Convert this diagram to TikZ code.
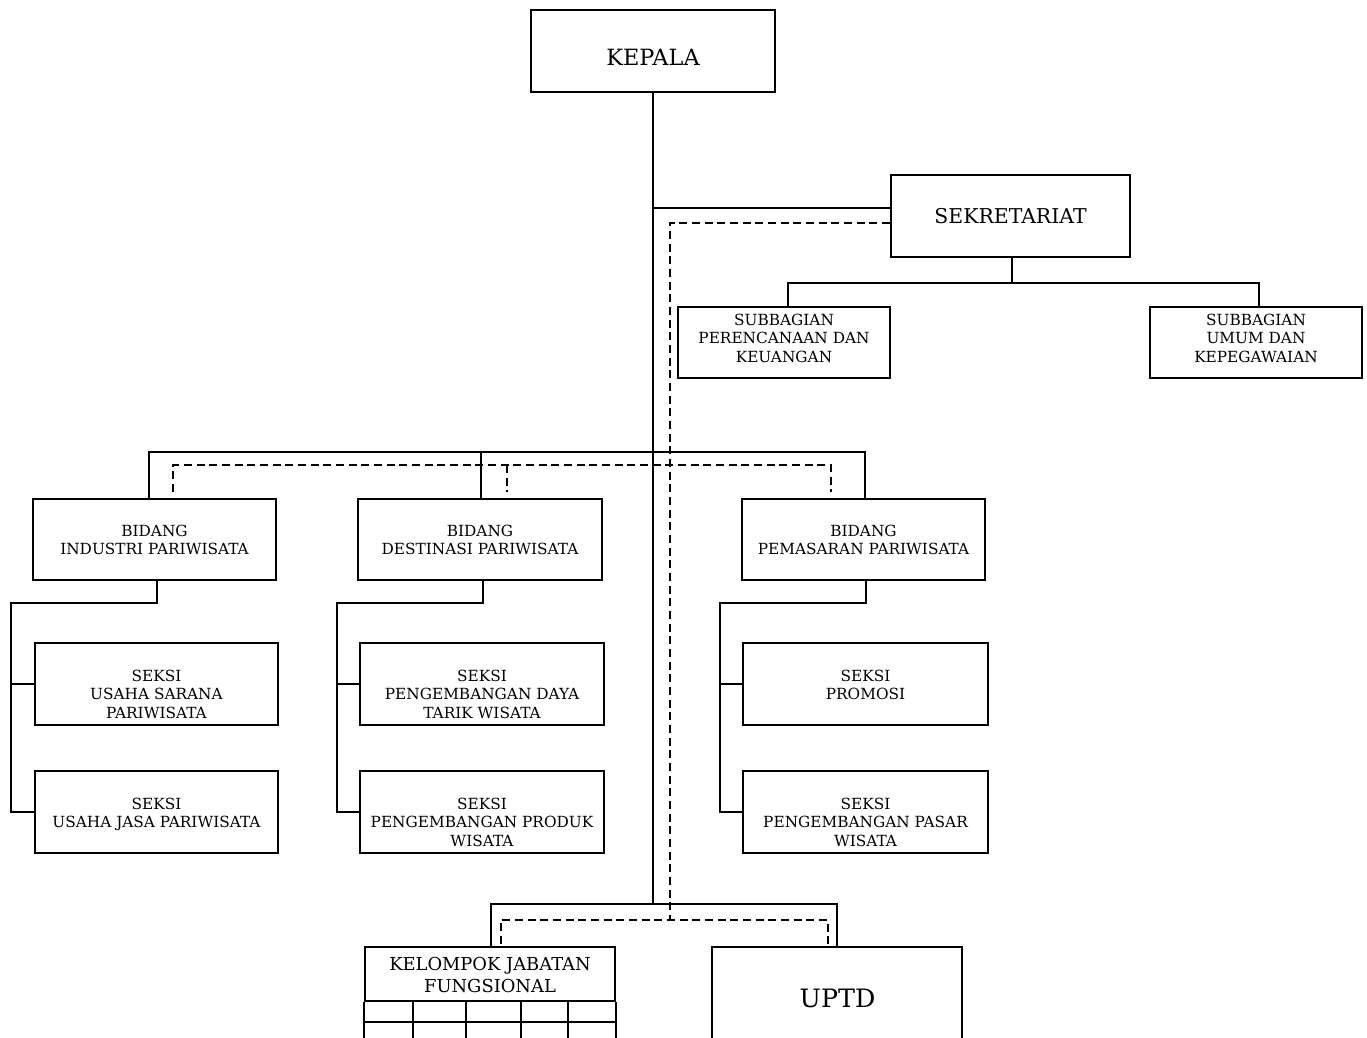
\documentclass[tikz,border=0pt]{standalone}
\usepackage{fontspec}
\setmainfont{DejaVu Serif}
\usetikzlibrary{calc}
\begin{document}
\begin{tikzpicture}[x=0.75pt,y=-0.75pt,
  box/.style 2 args={draw, line width=1.4pt, inner sep=0pt, minimum width=#1, minimum height=#2},
  txt/.style={inner sep=0pt, align=center, font=\fontsize{11.5}{13.75}\selectfont},
  con/.style={line width=1.4pt},
  gridline/.style={line width=1.1pt},
  dsh/.style={line width=1.3pt, dash pattern=on 6pt off 3.5pt}]
\useasboundingbox (0,0) rectangle (1367,1038);
\clip (0,0) rectangle (1367,1038);

% ---------- boxes ----------
\node[box={183pt}{61.5pt}] (kepala) at (653,51) {};
\node[box={179.25pt}{61.5pt}] (sek) at (1010.5,216) {};
\node[box={159pt}{53.25pt}] (sub1) at (784,342.5) {};
\node[box={159pt}{53.25pt}] (sub2) at (1256,342.5) {};
\node[box={182.25pt}{60.75pt}] (bid1) at (154.5,539.5) {};
\node[box={183pt}{60.75pt}] (bid2) at (480,539.5) {};
\node[box={182.25pt}{60.75pt}] (bid3) at (863.5,539.5) {};
\node[box={182.25pt}{61.5pt}] (s11) at (156.5,684) {};
\node[box={182.25pt}{61.5pt}] (s12) at (156.5,812) {};
\node[box={183pt}{61.5pt}] (s21) at (482,684) {};
\node[box={183pt}{61.5pt}] (s22) at (482,812) {};
\node[box={183.75pt}{61.5pt}] (s31) at (865.5,684) {};
\node[box={183.75pt}{61.5pt}] (s32) at (865.5,812) {};
\node[box={187.5pt}{40.5pt}] (kjf) at (490,974) {};
\node[box={187.5pt}{82.5pt}] (uptd) at (837,1002) {};

% ---------- texts ----------
\node[inner sep=0pt, font=\fontsize{16.8}{20}\selectfont] (tkepala) at (653,57) {KEPALA};
\node[inner sep=0pt, font=\fontsize{15.3}{18}\selectfont] (tsek) at (1010.5,216) {SEKRETARIAT};
\node[txt, anchor=north] (tsub1) at (784,314) {SUBBAGIAN\\PERENCANAAN DAN\\KEUANGAN};
\node[txt, anchor=north] (tsub2) at (1256,314) {SUBBAGIAN\\UMUM DAN\\KEPEGAWAIAN};
\node[txt, anchor=north] (tbid1) at (154.5,525) {BIDANG\\INDUSTRI PARIWISATA};
\node[txt, anchor=north] (tbid2) at (480,525) {BIDANG\\DESTINASI PARIWISATA};
\node[txt, anchor=north] (tbid3) at (863.5,525) {BIDANG\\PEMASARAN PARIWISATA};
\node[txt, anchor=north] (ts11) at (156.5,670) {SEKSI\\USAHA SARANA\\PARIWISATA};
\node[txt, anchor=north] (ts12) at (156.5,798) {SEKSI\\USAHA JASA PARIWISATA};
\node[txt, anchor=north] (ts21) at (482,670) {SEKSI\\PENGEMBANGAN DAYA\\TARIK WISATA};
\node[txt, anchor=north] (ts22) at (482,798) {SEKSI\\PENGEMBANGAN PRODUK\\WISATA};
\node[txt, anchor=north] (ts31) at (865.5,670) {SEKSI\\PROMOSI};
\node[txt, anchor=north] (ts32) at (865.5,798) {SEKSI\\PENGEMBANGAN PASAR\\WISATA};
\node[inner sep=0pt, align=center, anchor=north, font=\fontsize{13.4}{16.5}\selectfont] (tkjf) at (490,957) {KELOMPOK JABATAN\\FUNGSIONAL};
\node[inner sep=0pt, font=\fontsize{19}{22}\selectfont] (tuptd) at (837.5,998) {UPTD};

% ---------- KJF grid ----------
\coordinate (kb) at (490,1050);
\coordinate (kr) at (490,1022);
\draw[con] (kjf.south west) -- (kjf.south west |- kb);
\draw[con] (kjf.south east) -- (kjf.south east |- kb);
\draw[gridline] (kr -| kjf.west) -- (kr -| kjf.east);
\foreach \gx in {413,466,521,568} \draw[gridline] (\gx,1001) -- (\gx,1050);

% ---------- solid connectors ----------
\coordinate (jbot) at (653,904);
\draw[con] (kepala.south) -- (jbot);
\coordinate (jsek) at (653,208);
\draw[con] (jsek) -- (jsek -| sek.west);

\coordinate (a0) at (1012,283);
\coordinate (a1) at (788,283);
\coordinate (a2) at (1259,283);
\draw[con] (sek.south -| a0) -- (a0);
\draw[con] (sub1.north -| a1) -- (a1) -- (a2) -- (sub2.north -| a2);

\coordinate (b1) at (149,452);
\coordinate (b2) at (481,452);
\coordinate (b3) at (865,452);
\draw[con] (bid1.north -| b1) -- (b1) -- (b3) -- (bid3.north -| b3);
\draw[con] (b2) -- (bid2.north -| b2);

\coordinate (h1) at (157,603);
\coordinate (h1b) at (11,603);
\draw[con] (bid1.south -| h1) -- (h1) -- (h1b) |- (s12.west);
\draw[con] (h1b |- s11.west) -- (s11.west);
\coordinate (h2) at (483,603);
\coordinate (h2b) at (337,603);
\draw[con] (bid2.south -| h2) -- (h2) -- (h2b) |- (s22.west);
\draw[con] (h2b |- s21.west) -- (s21.west);
\coordinate (h3) at (866,603);
\coordinate (h3b) at (720,603);
\draw[con] (bid3.south -| h3) -- (h3) -- (h3b) |- (s32.west);
\draw[con] (h3b |- s31.west) -- (s31.west);

\coordinate (g1) at (491,904);
\coordinate (g2) at (837,904);
\draw[con] (kjf.north -| g1) -- (g1) -- (g2) -- (uptd.north -| g2);

% ---------- dashed connectors ----------
\coordinate (d0) at (670,223);
\coordinate (d1) at (670,920);
\draw[dsh] (sek.west |- d0) -- (d0) -- (d1);
\coordinate (e1) at (173,465);
\coordinate (e2) at (507,465);
\coordinate (e3) at (831,465);
\draw[dsh] ($(bid1.north -| e1)+(0,-6)$) -- (e1) -- (e3) -- ($(bid3.north -| e3)+(0,-6)$);
\draw[dsh] (e2) -- ($(bid2.north -| e2)+(0,-6)$);
\coordinate (f1) at (501,920);
\coordinate (f2) at (828,920);
\draw[dsh] ($(kjf.north -| f1)+(0,-2)$) -- (f1) -- (f2) -- ($(uptd.north -| f2)+(0,-2)$);
\end{tikzpicture}
\end{document}
